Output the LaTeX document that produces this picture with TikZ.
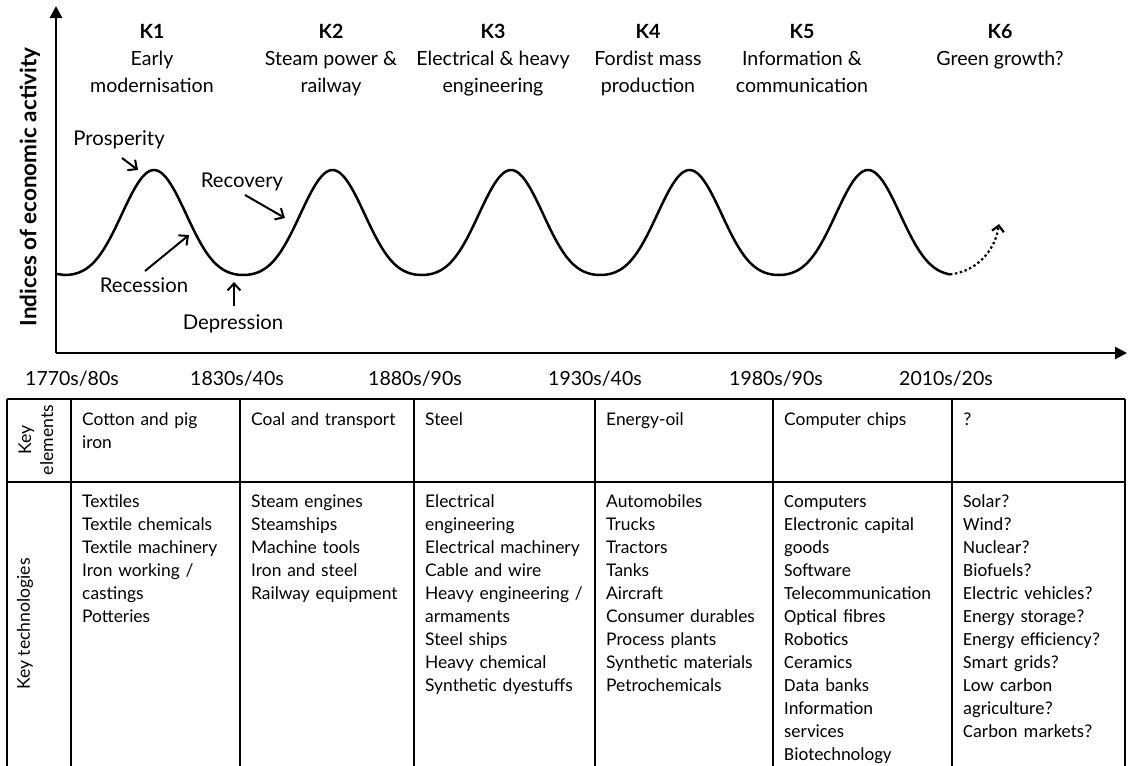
\documentclass[tikz,border=0pt]{standalone}
\usepackage{fontspec}
\setmainfont{Lato}
\newfontfamily\calfont{Carlito}
\usetikzlibrary{arrows.meta}
\begin{document}
\begin{tikzpicture}[x=1pt,y=-1pt,
  axis/.style={line width=2.6pt, -{Triangle[length=12pt,width=12pt]}},
  wave/.style={line width=2.5pt, line join=round},
  ann/.style={line width=2pt, -{Straight Barb[length=7pt,width=13pt]}},
  lbl/.style={font=\fontsize{20.3}{23}\selectfont, inner sep=0pt, anchor=base},
  ttl/.style={font=\fontsize{19.6}{23}\selectfont, inner sep=0pt, anchor=base},
  datel/.style={font=\fontsize{19.5}{23}\selectfont, inner sep=0pt, anchor=base},
  kk/.style={font=\fontsize{19.6}{23}\selectfont\bfseries, inner sep=0pt, anchor=base},
  tabline/.style={line width=1.2pt},
  celltext/.style={font=\fontsize{17.4}{23}\selectfont, inner sep=0pt, anchor=base west, text width=168pt, align=left},
  celltextc/.style={celltext, font=\calfont\fontsize{18.5}{23}\selectfont},
  sidelbl/.style={font=\fontsize{17.6}{22}\selectfont, inner sep=0pt, rotate=90, align=center},
  declare function={cc(\t)=0.5+0.5*cos((\t-154)*2.01681); wv(\t)=275-105*(0.35*cc(\t)+0.65*cc(\t)^2);},
]
\useasboundingbox (0,0) rectangle (1128,766);
% axes
\coordinate (o) at (56,353);
\coordinate (ytop) at (56,6);
\coordinate (xend) at (1127,353);
\draw[axis] (o) -- (ytop);
\draw[axis] (o) -- (xend);
\node[font=\fontsize{22.5}{23}\selectfont\bfseries, rotate=90, inner sep=0pt] (ylab) at (30,187) {Indices of economic activity};
% wave
\coordinate (wstart) at (57,274);
\coordinate (wend) at (950,{wv(950)});
\draw[wave] (wstart) -- (64.75,275) -- plot[domain=64.75:950, samples=400, smooth] (\x,{wv(\x)});
\coordinate (fut) at (999,224);
\draw[line width=2.2pt, dash pattern=on 2.4pt off 2.6pt, -{Straight Barb[length=6pt,width=12pt]}] (wend) .. controls (975,272) and (995,252) .. (fut);
% titles
\node[kk] (k1) at (152,38) {K1};
\node[ttl] (k1a) at (152,65) {Early};
\node[ttl] (k1b) at (152,92) {modernisation};
\node[kk] (k2) at (331,38) {K2};
\node[ttl] (k2a) at (331,65) {Steam power \&};
\node[ttl] (k2b) at (331,92) {railway};
\node[kk] (k3) at (493,38) {K3};
\node[ttl] (k3a) at (493,65) {Electrical \& heavy};
\node[ttl] (k3b) at (493,92) {engineering};
\node[kk] (k4) at (648,38) {K4};
\node[ttl] (k4a) at (648,65) {Fordist mass};
\node[ttl] (k4b) at (648,92) {production};
\node[kk] (k5) at (802,38) {K5};
\node[ttl] (k5a) at (802,65) {Information \&};
\node[ttl] (k5b) at (802,92) {communication};
\node[kk] (k6) at (1000,38) {K6};
\node[ttl] (k6a) at (1000,65) {Green growth?};
% annotations
\node[lbl] (pros) at (119,145) {Prosperity};
\coordinate (prosA) at (122,158); \coordinate (prosB) at (138,170);
\draw[ann] (prosA) -- (prosB);
\node[lbl] (reco) at (242,187) {Recovery};
\coordinate (recoA) at (245,195); \coordinate (recoB) at (285,218);
\draw[ann] (recoA) -- (recoB);
\node[lbl] (rece) at (144,292) {Recession};
\coordinate (receA) at (145,271); \coordinate (receB) at (189,235);
\draw[ann] (receA) -- (receB);
\node[lbl] (depr) at (233,329) {Depression};
\coordinate (deprA) at (234,306); \coordinate (deprB) at (234,282);
\draw[ann] (deprA) -- (deprB);
% dates
\node[datel] (d1) at (72,385) {1770s/80s};
\node[datel] (d2) at (237,385) {1830s/40s};
\node[datel] (d3) at (415,385) {1880s/90s};
\node[datel] (d4) at (595,385) {1930s/40s};
\node[datel] (d5) at (776,385) {1980s/90s};
\node[datel] (d6) at (946,385) {2010s/20s};
% table
\draw[tabline] (7,399) -- (1125,399);
\draw[tabline] (7,482) -- (1125,482);
\foreach \cx in {7,71,240,414,595,773,952,1125}
  \draw[tabline] (\cx,399) -- (\cx,767);
\node[sidelbl] (ke) at (36,440) {Key\\elements};
\node[sidelbl] (kt) at (25,624) {Key technologies};
\node[celltext] (e1) at (82,425) {Cotton and pig\\iron};
\node[celltext] (e2) at (251,425) {Coal and transport};
\node[celltext] (e3) at (425,425) {Steel};
\node[celltext] (e4) at (606,425) {Energy-oil};
\node[celltext] (e5) at (784,425) {Computer chips};
\node[celltextc] (e6) at (963,425) {?};
\node[celltext] (t1) at (82,507) {Textiles\\Textile chemicals\\Textile machinery\\Iron working /\\castings\\Potteries};
\node[celltext] (t2) at (251,507) {Steam engines\\Steamships\\Machine tools\\Iron and steel\\Railway equipment};
\node[celltext] (t3) at (425,507) {Electrical\\engineering\\Electrical machinery\\Cable and wire\\Heavy engineering /\\armaments\\Steel ships\\Heavy chemical\\Synthetic dyestuffs};
\node[celltext] (t4) at (606,507) {Automobiles\\Trucks\\Tractors\\Tanks\\Aircraft\\Consumer durables\\Process plants\\Synthetic materials\\Petrochemicals};
\node[celltextc] (t5) at (784,507) {Computers\\Electronic capital\\goods\\Software\\Telecommunication\\Optical fibres\\Robotics\\Ceramics\\Data banks\\Information\\services\\Biotechnology};
\node[celltextc] (t6) at (963,507) {Solar?\\Wind?\\Nuclear?\\Biofuels?\\Electric vehicles?\\Energy storage?\\Energy efficiency?\\Smart grids?\\Low carbon\\agriculture?\\Carbon markets?};
\end{tikzpicture}
\end{document}
